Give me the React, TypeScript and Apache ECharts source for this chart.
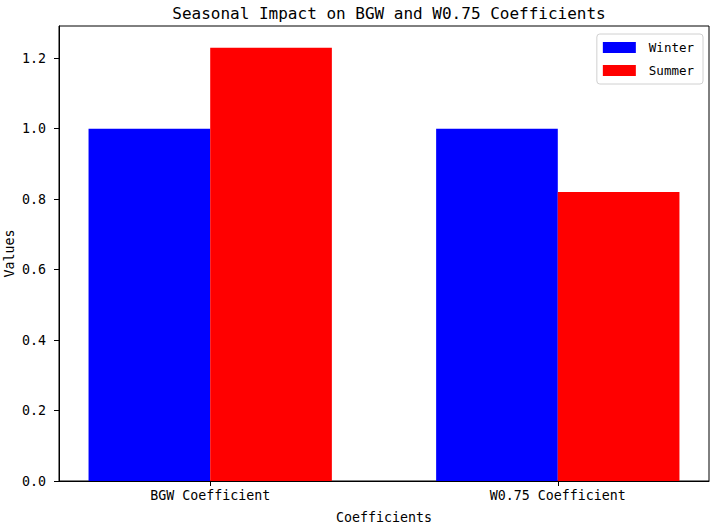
import React, { useEffect, useRef } from "react";
import * as echarts from "echarts";

const categories = ["BGW Coefficient", "W0.75 Coefficient"];
const winterValues = [1.0, 1.0];
const summerValues = [1.23, 0.82];
const yTicks = [0, 0.2, 0.4, 0.6, 0.8, 1.0, 1.2];

const BAR_WIDTH = 0.35;
const FONT = "'DejaVu Sans Mono', 'Liberation Mono', monospace";

function barSeries(name: string, values: number[], offset: number, color: string) {
  return {
    name,
    type: "custom",
    itemStyle: { color },
    encode: { x: 0, y: 1 },
    data: values.map((v, i) => [i + offset, v]),
    renderItem: (params: any, api: any) => {
      const x = api.value(0);
      const y = api.value(1);
      const p0 = api.coord([x - BAR_WIDTH / 2, y]);
      const p1 = api.coord([x + BAR_WIDTH / 2, 0]);
      return {
        type: "rect",
        shape: { x: p0[0], y: p0[1], width: p1[0] - p0[0], height: p1[1] - p0[1] },
        style: { fill: color },
      };
    },
  };
}

export default function App() {
  const ref = useRef<HTMLDivElement>(null);

  useEffect(() => {
    if (!ref.current) return;
    const chart = echarts.init(ref.current, undefined, { renderer: "svg" });
    const xMin = -BAR_WIDTH - 0.085;
    const xMax = categories.length - 1 + BAR_WIDTH + 0.085;
    const yMax = Math.max(...winterValues, ...summerValues) * 1.05;

    chart.setOption({
      animation: false,
      backgroundColor: "#ffffff",
      title: {
        text: "Seasonal Impact on BGW and W0.75 Coefficients",
        left: 384,
        textAlign: "center",
        top: 0,
        textStyle: { fontFamily: FONT, fontSize: 16, fontWeight: "normal", color: "#000" },
      },
      legend: {
        orient: "vertical",
        right: 11,
        top: 34,
        itemWidth: 33,
        itemHeight: 11,
        itemGap: 10,
        padding: [7, 9, 7, 6],
        borderColor: "#d0d0d0",
        borderWidth: 1,
        borderRadius: 3,
        textStyle: { fontFamily: FONT, fontSize: 12.5, color: "#000", padding: [0, 0, 0, 8] },
        data: [
          { name: "Winter", icon: "rect" },
          { name: "Summer", icon: "rect" },
        ],
      },
      grid: {
        left: 59,
        right: 5,
        top: 26,
        bottom: 45,
        containLabel: false,
        outerBoundsMode: "none",
        show: true,
        borderColor: "#000",
        borderWidth: 1,
      },
      xAxis: {
        type: "value",
        min: xMin,
        max: xMax,
        name: "Coefficients",
        nameLocation: "middle",
        nameGap: 30,
        nameMoveOverlap: false,
        nameTextStyle: { fontFamily: FONT, fontSize: 13.3, color: "#000" },
        axisLine: { show: true, onZero: false, lineStyle: { color: "#000", width: 1 } },
        axisTick: { show: true, inside: false, length: 5, customValues: [0, 1], lineStyle: { color: "#000" } },
        axisLabel: {
          customValues: [0, 1],
          formatter: (v: number) => categories[Math.round(v)] ?? "",
          margin: 8,
          fontFamily: FONT,
          fontSize: 13.3,
          color: "#000",
        },
        splitLine: { show: false },
      },
      yAxis: {
        type: "value",
        min: 0,
        max: yMax,
        name: "Values",
        nameLocation: "middle",
        nameGap: 43,
        nameMoveOverlap: false,
        nameTextStyle: { fontFamily: FONT, fontSize: 13.3, color: "#000" },
        axisLine: { show: true, onZero: false, lineStyle: { color: "#000", width: 1 } },
        axisTick: { show: true, inside: false, length: 5, customValues: yTicks, lineStyle: { color: "#000" } },
        axisLabel: {
          customValues: yTicks,
          formatter: (v: number) => v.toFixed(1),
          margin: 13,
          fontFamily: FONT,
          fontSize: 13.3,
          color: "#000",
        },
        splitLine: { show: false },
      },
      series: [
        barSeries("Winter", winterValues, -BAR_WIDTH / 2, "#0000ff"),
        barSeries("Summer", summerValues, BAR_WIDTH / 2, "#ff0000"),
      ],
    });

    return () => chart.dispose();
  }, []);

  return (
    <div
      ref={ref}
      style={{ position: "absolute", left: 0, top: 0, width: 714, height: 526 }}
    />
  );
}
